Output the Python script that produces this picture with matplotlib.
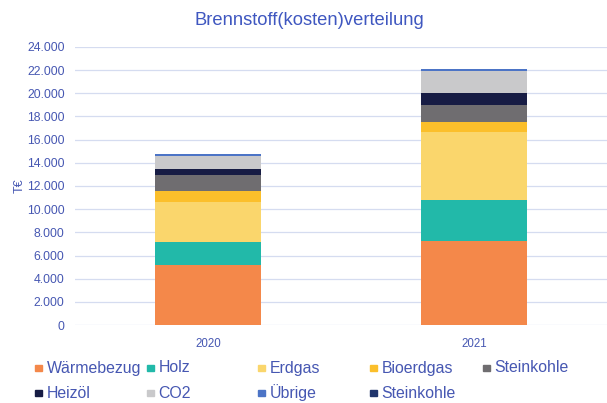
import numpy as np
import matplotlib.pyplot as plt
from matplotlib.patches import Rectangle

years = ["2020", "2021"]
labels = ["Wärmebezug", "Holz", "Erdgas", "Bioerdgas", "Steinkohle",
          "Heizöl", "CO2", "Übrige", "Steinkohle"]
values = [
    [5200, 7250],   # Wärmebezug
    [1950, 3540],   # Holz
    [3500, 5900],   # Erdgas
    [920, 870],     # Bioerdgas
    [1400, 1440],   # Steinkohle
    [470, 1060],    # Heizöl
    [1170, 1870],   # CO2
    [150, 150],     # Übrige
    [0, 0],         # Steinkohle (2)
]
colors = ["#f4884a", "#22b9a9", "#fad66c", "#fbbf2b", "#6f6d70",
          "#171c44", "#c9c9cb", "#4c74c6", "#20356c"]

txt = "#4657b2"
plt.rcParams['font.family'] = ['Liberation Sans', 'DejaVu Sans']

fig = plt.figure(figsize=(6.07, 4.03), dpi=100)
ax = fig.add_axes([0.1236, 0.1935, 0.876, 0.69])

x = np.arange(len(years))
bottom = np.zeros(len(years))
for lab, vals, c in zip(labels, values, colors):
    ax.bar(x, vals, 0.4, bottom=bottom, color=c, zorder=3)
    bottom += np.array(vals)

ax.set_xlim(-0.5, 1.5)
ax.set_ylim(0, 24000)
ax.set_yticks(np.arange(0, 24001, 2000))
ax.set_yticklabels([f"{v:,}".replace(",", ".") for v in range(0, 24001, 2000)])
ax.set_xticks(x)
ax.set_xticklabels(years)
ax.tick_params(axis='y', length=0, labelsize=8.8, labelcolor=txt, pad=7.5)
ax.tick_params(axis='x', length=0, labelsize=8.3, labelcolor=txt, pad=9)
ax.grid(axis='y', color="#d5dcf0", lw=0.9, zorder=0)
for s in ax.spines.values():
    s.set_visible(False)
ax.set_ylabel("T€", color=txt, fontsize=9, labelpad=1)

fig.text(0.509, 0.95, "Brennstoff(kosten)verteilung", ha='center', va='center',
         fontsize=13.2, color="#3f57c0")

# legend: two rows on a grid of ~112 px columns
pos = [(35, 368), (147, 368), (258, 368), (370, 368), (483, 368),
       (35, 393), (147, 393), (258, 393), (370, 393)]
W, H = 607, 403
for (px, py), lab, c in zip(pos, labels, colors):
    fig.add_artist(Rectangle((px / W, 1 - (py + 3) / H), 6.5 / W, 6.5 / H,
                             transform=fig.transFigure, color=c))
    fig.text((px + 11.5) / W, 1 - py / H, lab, ha='left', va='center',
             fontsize=11.4, color=txt)

fig.savefig("out.png", dpi=100)
